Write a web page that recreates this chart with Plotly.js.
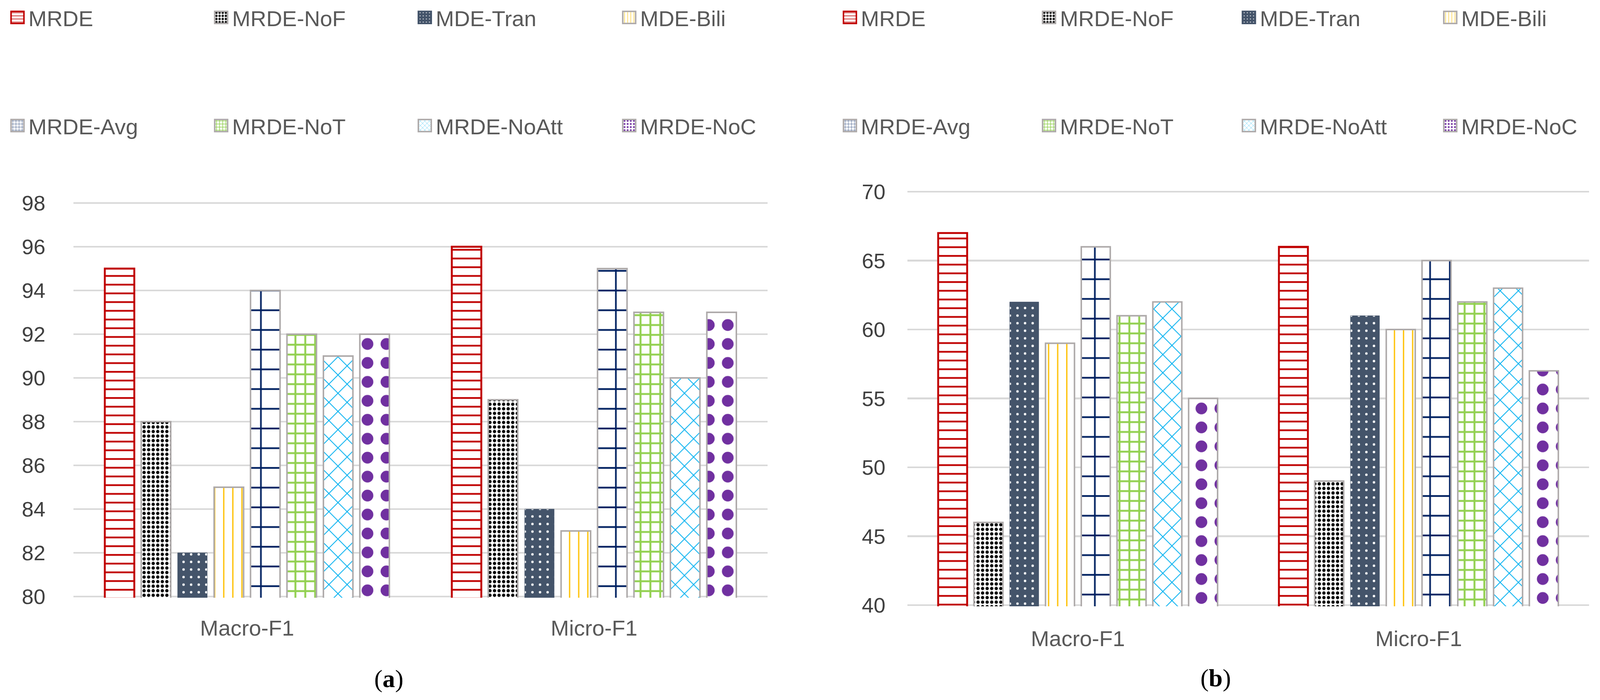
<!DOCTYPE html>
<html><head><meta charset="utf-8">
<script src="https://cdn.plot.ly/plotly-3.0.1.min.js"></script>
<style>html,body{margin:0;padding:0;background:#fff;overflow:hidden}#chart{position:absolute;left:0;top:0}</style>
</head><body><div id="chart"></div>
<script>
// ---- data ----
const categories = ['Macro-F1', 'Micro-F1'];
const seriesNames = ['MRDE', 'MRDE-NoF', 'MDE-Tran', 'MDE-Bili', 'MRDE-Avg', 'MRDE-NoT', 'MRDE-NoAtt', 'MRDE-NoC'];
const panelA_macro = [95, 88, 82, 85, 94, 92, 91, 92];
const panelA_micro = [96, 89, 84, 83, 95, 93, 90, 93];
const panelB_macro = [67, 46, 62, 59, 66, 61, 62, 55];
const panelB_micro = [66, 49, 61, 60, 65, 62, 63, 57];
const panelA_ticks = [80, 82, 84, 86, 88, 90, 92, 94, 96, 98];
const panelB_ticks = [40, 45, 50, 55, 60, 65, 70];
const captions = ['(<b>a</b>)', '(<b>b</b>)'];

// ---- geometry (reference pixels) and styles ----
const W = 4219, H = 1793;
const Wv = window.innerWidth || W, Hv = window.innerHeight || H;
const kx = Wv / W, ky = Hv / H, k = Math.min(kx, ky);
const styles = [
  {shape: '-', fg: '#c00000', bg: '#ffffff', size: 23, sol: 0.2, line: '#c00000', lw: 5},
  {shape: '.', fg: '#000000', bg: '#ffffff', size: 12, sol: 0.42, line: '#aeaaaa', lw: 4},
  {shape: '.', fg: '#ffffff', bg: '#44546a', size: 20, sol: 0.08, line: '#44546a', lw: 1},
  {shape: '|', fg: '#ffc000', bg: '#ffffff', size: 24, sol: 0.14, line: '#aeaaaa', lw: 4},
  {shape: '+', fg: '#002060', bg: '#ffffff', size: 52, sol: 0.16, line: '#aeaaaa', lw: 4},
  {shape: '+', fg: '#92d050', bg: '#ffffff', size: 26, sol: 0.35, line: '#aeaaaa', lw: 4},
  {shape: 'x', fg: '#00b0f0', bg: '#ffffff', size: 34, sol: 0.12, line: '#aeaaaa', lw: 4},
  {shape: '.', fg: '#7030a0', bg: '#ffffff', size: 50, sol: 0.3, line: '#aeaaaa', lw: 4}
];
const FONT = 'Liberation Sans, Arial, sans-serif';
const legendColsA = [41, 578, 1115, 1654];
const legendColsB = [2236, 2761, 3288, 3819];
const legendRowsA = [45, 322];
const legendRowsB = [45, 322];
const NOTICK = 'rgba(0,0,0,0)';

// plot areas: [y of top tick, y of bottom tick] in reference px; pad keeps edge gridlines visible
const PAD = 3;
function yAxisSpec(topPx, botPx, lo, hi) {
  const u = (hi - lo) / (botPx - topPx);
  return {domain: [1 - (botPx + PAD) / H, 1 - (topPx - PAD) / H], range: [lo - PAD * u, hi + PAD * u]};
}
const yA = yAxisSpec(520, 1528, panelA_ticks[0], panelA_ticks[panelA_ticks.length - 1]);
const yB = yAxisSpec(491, 1550, panelB_ticks[0], panelB_ticks[panelB_ticks.length - 1]);

const traces = [];
const layout = {
  width: Wv, height: Hv,
  margin: {l: 0, r: 0, t: 0, b: 0, autoexpand: false},
  paper_bgcolor: '#ffffff', plot_bgcolor: 'rgba(0,0,0,0)',
  barmode: 'group', bargap: 0.16, bargroupgap: 0.19,
  font: {family: FONT, color: '#595959'},
  xaxis: {domain: [194 / W, 2024 / W], anchor: 'y', type: 'category', showgrid: false, zeroline: false,
    showline: false, ticks: 'outside', ticklen: 29 * k, tickcolor: NOTICK,
    tickfont: {family: FONT, size: 58 * k, color: '#595959'}},
  yaxis: {domain: yA.domain, anchor: 'x', range: yA.range, tickmode: 'array',
    tickvals: panelA_ticks, ticktext: panelA_ticks.map(String), gridcolor: '#d9d9d9', gridwidth: 5 * k, zeroline: false,
    showline: false, ticks: 'outside', ticklen: 62 * k, tickcolor: NOTICK,
    tickfont: {family: FONT, size: 56 * k, color: '#404040'}},
  xaxis2: {domain: [2393 / W, 4190 / W], anchor: 'y2', type: 'category', showgrid: false, zeroline: false,
    showline: false, ticks: 'outside', ticklen: 34 * k, tickcolor: NOTICK,
    tickfont: {family: FONT, size: 58 * k, color: '#595959'}},
  yaxis2: {domain: yB.domain, anchor: 'x2', range: yB.range, tickmode: 'array',
    tickvals: panelB_ticks, ticktext: panelB_ticks.map(String), gridcolor: '#d9d9d9', gridwidth: 5 * k, zeroline: false,
    showline: false, ticks: 'outside', ticklen: 46 * k, tickcolor: NOTICK,
    tickfont: {family: FONT, size: 56 * k, color: '#404040'}},
  annotations: [
    {text: captions[0], xref: 'paper', yref: 'paper', x: 1025 / W, y: 1 - 1738 / H, showarrow: false,
      xanchor: 'center', yanchor: 'middle', font: {family: 'Liberation Serif, Times New Roman, serif', size: 66 * k, color: '#000000'}},
    {text: captions[1], xref: 'paper', yref: 'paper', x: 3205 / W, y: 1 - 1736 / H, showarrow: false,
      xanchor: 'center', yanchor: 'middle', font: {family: 'Liberation Serif, Times New Roman, serif', size: 66 * k, color: '#000000'}}
  ],
  showlegend: true
};

function legendName(n) { return n === 0 ? 'legend' : 'legend' + (n + 1); }
function makeLegend(cx, cy) {
  return {x: (cx * kx - 23) / Wv, xanchor: 'left', y: 1 - cy / H, yanchor: 'middle', orientation: 'h',
    bgcolor: 'rgba(0,0,0,0)', borderwidth: 0, itemwidth: 46,
    font: {family: FONT, size: 58 * k, color: '#595959'}};
}

const panels = [
  {macro: panelA_macro, micro: panelA_micro, xa: 'x', ya: 'y', cols: legendColsA, rows: legendRowsA},
  {macro: panelB_macro, micro: panelB_micro, xa: 'x2', ya: 'y2', cols: legendColsB, rows: legendRowsB}
];
let lk = 0;
panels.forEach(function (p) {
  seriesNames.forEach(function (name, i) {
    const s = styles[i];
    const lname = legendName(lk);
    layout[lname] = makeLegend(p.cols[i % 4], p.rows[Math.floor(i / 4)]);
    lk++;
    traces.push({
      type: 'bar', name: name, x: categories, y: [p.macro[i], p.micro[i]],
      xaxis: p.xa, yaxis: p.ya, legend: lname, hoverinfo: 'skip',
      marker: {color: s.bg, line: {color: s.line, width: s.lw * k},
        pattern: {shape: s.shape, fgcolor: s.fg, bgcolor: s.bg, size: s.size * k, solidity: s.sol, fillmode: 'replace'}}
    });
  });
});

Plotly.newPlot('chart', traces, layout, {staticPlot: true, displayModeBar: false}).then(function () {
  const a = (17 * k).toFixed(1), b = (16 * k).toFixed(1);
  document.querySelectorAll('.legendpoints path').forEach(function (p) {
    p.setAttribute('d', 'M' + a + ',' + b + 'H-' + a + 'V-' + b + 'H' + a + 'Z');
    p.style.strokeWidth = (4 * k) + 'px';
  });
});
</script>
</body></html>
